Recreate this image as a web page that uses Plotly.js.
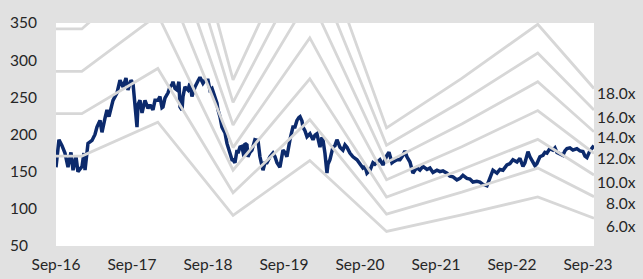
<!DOCTYPE html>
<html>
<head>
<meta charset="utf-8">
<script src="https://cdn.plot.ly/plotly-3.0.1.min.js"></script>
<style>html,body{margin:0;padding:0;background:#e1e1e1;}#chart{width:643px;height:279px;}</style>
</head>
<body>
<div id="chart"></div>
<script>
// x values: years elapsed since Sep-2016
const priceYears = [0.000,0.013,0.039,0.079,0.118,0.158,0.197,0.224,0.263,0.289,0.342,0.368,0.382,0.421,0.474,0.513,0.539,0.579,0.605,0.645,0.671,0.697,0.750,0.803,0.842,0.882,0.921,0.947,0.987,1.013,1.039,1.066,1.079,1.105,1.132,1.171,1.211,1.237,1.276,1.303,1.342,1.368,1.395,1.408,1.434,1.474,1.500,1.526,1.539,1.566,1.592,1.618,1.632,1.658,1.671,1.697,1.737,1.763,1.789,1.829,1.868,1.895,1.934,1.961,2.000,2.026,2.053,2.092,2.118,2.132,2.158,2.184,2.224,2.250,2.263,2.289,2.316,2.329,2.355,2.382,2.395,2.421,2.447,2.474,2.487,2.513,2.526,2.553,2.579,2.618,2.645,2.658,2.684,2.711,2.724,2.750,2.776,2.816,2.855,2.882,2.908,2.947,2.987,3.013,3.039,3.079,3.118,3.145,3.171,3.197,3.211,3.237,3.250,3.276,3.303,3.342,3.382,3.408,3.434,3.474,3.500,3.513,3.539,3.566,3.579,3.605,3.645,3.671,3.697,3.737,3.776,3.803,3.829,3.868,3.908,3.961,4.000,4.026,4.039,4.066,4.092,4.132,4.171,4.197,4.224,4.263,4.303,4.329,4.355,4.382,4.395,4.421,4.434,4.461,4.487,4.526,4.566,4.592,4.618,4.658,4.684,4.697,4.724,4.750,4.789,4.829,4.882,4.921,4.961,5.013,5.053,5.092,5.145,5.184,5.224,5.276,5.316,5.355,5.408,5.447,5.487,5.539,5.579,5.618,5.671,5.684,5.711,5.750,5.776,5.803,5.842,5.882,5.934,5.974,6.013,6.066,6.105,6.145,6.171,6.197,6.211,6.237,6.276,6.303,6.329,6.368,6.408,6.434,6.461,6.500,6.539,6.566,6.592,6.632,6.671,6.697,6.724,6.763,6.803,6.829,6.855,6.895,6.934,6.961,6.987,7.026,7.053,7.079];
const priceValues = [156,170,193,185,175,156,176,152,170,150,157,175,152,188,192,200,210,219,203,222,233,224,246,256,273,264,276,260,273,269,240,210,240,246,229,246,235,240,233,246,246,251,236,237,249,256,264,267,271,262,260,271,237,233,251,264,260,269,251,264,272,277,269,273,273,260,262,251,242,233,224,210,202,188,183,175,166,166,162,179,175,183,184,170,188,186,170,176,179,193,193,192,170,160,152,162,162,170,175,170,162,156,179,176,170,193,210,210,219,223,224,218,210,205,197,201,193,199,201,183,196,193,175,148,160,166,183,185,193,183,179,186,183,175,170,166,161,158,155,157,148,152,162,160,162,166,159,167,172,176,170,162,163,165,166,166,172,178,170,163,150,148,152,155,152,157,153,155,149,152,150,151,148,144,143,139,141,145,141,140,136,137,136,133,131,135,142,152,150,148,153,152,159,161,166,163,168,157,162,175,177,170,164,158,161,170,172,176,175,181,179,182,176,174,172,178,181,182,179,180,181,178,177,171,169,178,181,185];

// P/E band lines (price implied by each multiple)
const bandYears = [0, 0.34, 1.34, 2.33, 3.34, 4.35, 5.34, 6.34, 7.08];
const band6x  = [171, 171, 216.6, 91.2, 165, 69.6, 91.8, 116.1, 87.3];
const band8x  = [228, 228, 288.8, 121.6, 220, 92.8, 122.4, 154.8, 116.4];
const band10x = [285, 285, 361, 152, 275, 116, 153, 193.5, 145.5];
const band12x = [342, 342, 433.2, 182.4, 330, 139.2, 183.6, 232.2, 174.6];
const band14x = [399, 399, 505.4, 212.8, 385, 162.4, 214.2, 270.9, 203.7];
const band16x = [456, 456, 577.6, 243.2, 440, 185.6, 244.8, 309.6, 232.8];
const band18x = [513, 513, 649.8, 273.6, 495, 208.8, 275.4, 348.3, 261.9];
const bandLabels = ['18.0x','16.0x','14.0x','12.0x','10.0x','8.0x','6.0x'];

const xTickVals = [0,1,2,3,4,5,6,7];
const xTickText = ['Sep-16','Sep-17','Sep-18','Sep-19','Sep-20','Sep-21','Sep-22','Sep-23'];
const yTickVals = [50,100,150,200,250,300,350];
const yTickText = ['50\u2007','100','150','200','250','300','350'];

const bands = [band18x, band16x, band14x, band12x, band10x, band8x, band6x];
const traces = [{
  x: priceYears, y: priceValues, type: 'scatter', mode: 'lines',
  line: {color: '#0c2a6c', width: 3.5}, hoverinfo: 'skip'
}];
bands.forEach(b => traces.push({
  x: bandYears, y: b, type: 'scatter', mode: 'lines',
  line: {color: '#d7d7d7', width: 2.8}, hoverinfo: 'skip'
}));

const labelY = [0.686, 0.580, 0.490, 0.396, 0.288, 0.194, 0.090];
const font = {family: 'Lato, "Open Sans", sans-serif', size: 15.5, color: '#262626'};
const annotations = bandLabels.map((t, i) => ({
  text: t, xref: 'paper', yref: 'paper', x: 1.0818, y: labelY[i],
  xanchor: 'right', yanchor: 'middle', showarrow: false, font: font
}));

const layout = {
  width: 643, height: 279,
  margin: {l: 56, r: 49, t: 23, b: 33, pad: 0},
  paper_bgcolor: '#e1e1e1', plot_bgcolor: '#ffffff',
  showlegend: false, font: font,
  xaxis: {range: [0, 7.08], tickvals: xTickVals, ticktext: xTickText,
    showgrid: false, zeroline: false, showline: false, ticks: '',
    ticklabelstandoff: 7, tickfont: font, fixedrange: true},
  yaxis: {range: [50, 350], tickvals: yTickVals, ticktext: yTickText,
    showgrid: false, zeroline: false, showline: false, ticks: '',
    ticklabelstandoff: 18, tickfont: font, fixedrange: true},
  annotations: annotations
};
Plotly.newPlot('chart', traces, layout, {staticPlot: true, displayModeBar: false});
</script>
</body>
</html>
